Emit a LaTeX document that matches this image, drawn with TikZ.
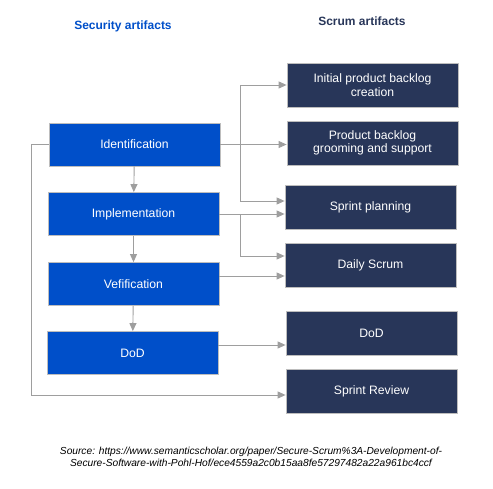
\documentclass[tikz,border=0pt]{standalone}
\usepackage{fontspec}
\setmainfont{Liberation Sans}
\usetikzlibrary{arrows.meta}
\definecolor{secblue}{HTML}{004FC9}
\definecolor{scrumnavy}{HTML}{283659}
\definecolor{linkgray}{HTML}{9E9E9E}
\definecolor{boxedge}{HTML}{BDBDBD}
\begin{document}
\begin{tikzpicture}[x=1pt,y=-1pt,
    secbox/.style={draw=boxedge,line width=0.8pt,fill=secblue,text=white,minimum width=171pt,minimum height=43pt,font=\fontsize{12.2}{13.5}\selectfont},
    scrumbox/.style={draw=boxedge,line width=0.8pt,fill=scrumnavy,text=white,minimum width=171pt,minimum height=44pt,align=center,font=\fontsize{12.2}{13.5}\selectfont},
    link/.style={draw=linkgray,line width=0.9pt,-{Triangle[length=8pt,width=7pt]}}]
    \useasboundingbox (0,0) rectangle (493,489);
    % column titles
    \node[text=secblue,font=\bfseries\fontsize{12}{14}\selectfont] (sectitle) at (123,26) {Security artifacts};
    \node[text=scrumnavy,font=\bfseries\fontsize{12}{14}\selectfont] (scrumtitle) at (362,21) {Scrum artifacts};
    % security artifacts
    \node[secbox] (ident) at (134.5,144.5) {Identification};
    \node[secbox] (impl) at (133.5,214) {Implementation};
    \node[secbox] (verif) at (133.5,284) {Vefification};
    \node[secbox] (secdod) at (132.5,353) {DoD};
    % scrum artifacts
    \node[scrumbox] (initial) at (372.5,85) {Initial product backlog\\creation};
    \node[scrumbox] (grooming) at (372.5,143) {Product backlog\\grooming and support};
    \node[scrumbox] (planning) at (370.5,207) {Sprint planning};
    \node[scrumbox] (daily) at (370.5,265) {Daily Scrum};
    \node[scrumbox] (scrumdod) at (371.5,333) {DoD};
    \node[scrumbox] (review) at (371.5,391) {Sprint Review};
    \coordinate (trunk) at (240,0);
    \coordinate (leftrail) at (31,0);
    \coordinate (verifout) at ([yshift=8pt]verif.east);
    \coordinate (dodout) at ([yshift=8pt]secdod.east);
    % links
    \draw[link] (ident) -- (impl);
    \draw[link] (impl) -- (verif);
    \draw[link] (verif) -- (secdod);
    \draw[link] (ident.east) -- (grooming.west |- ident.east);
    \draw[link] (ident.east) -- (trunk |- ident.east) |- (initial.west);
    \draw[link] (ident.east) -- (trunk |- ident.east) |- ([yshift=6pt]planning.west);
    \draw[link] (impl.east) -- (planning.west |- impl.east);
    \draw[link] (impl.east) -- (trunk |- impl.east) |- ([yshift=9pt]daily.west);
    \draw[link] (verifout) -- (daily.west |- verifout);
    \draw[link] (dodout) -- (scrumdod.west |- dodout);
    \draw[link] (ident.west) -- (leftrail |- ident.west) |- ([yshift=-4pt]review.west);
    % source
    \node[align=center,font=\itshape\fontsize{10.2}{12.5}\selectfont] (source) at (251,457) {Source: https://www.semanticscholar.org/paper/Secure-Scrum\%3A-Development-of-\\Secure-Software-with-Pohl-Hof/ece4559a2c0b15aa8fe57297482a22a961bc4ccf};
\end{tikzpicture}
\end{document}
